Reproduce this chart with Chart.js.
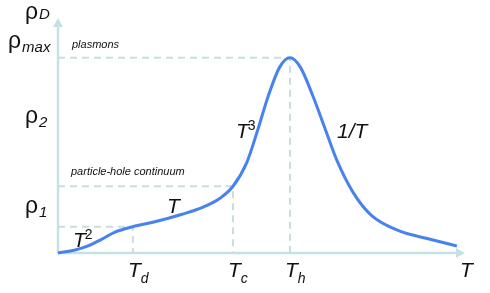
<!DOCTYPE html>
<html>
<head>
<meta charset="utf-8">
<script src="https://cdn.jsdelivr.net/npm/chart.js@4"></script>
<style>
  html, body { margin: 0; padding: 0; background: #fff; }
  #wrap { width: 490px; height: 293px; }
</style>
</head>
<body>
<div id="wrap"><canvas id="densityChart"></canvas></div>
<script>
// curve (T in 0..100, rho_D in 0..100)
const curveT   = [0, 4.2, 7.4, 10.8, 14.0, 18.4, 23.8, 30.5, 35.5, 39.8, 43.0, 46.4, 49.1, 51.6, 54.5, 57.0, 59.5, 62.7, 65.6, 68.5, 72.5, 77.0, 84.0, 90.7, 98.0];
const curveRho = [0, 1.3, 3.0, 5.9, 8.9, 11.2, 13.3, 16.5, 19.4, 23.3, 28.4, 38.6, 52.5, 66.5, 79.2, 83.1, 79.2, 66.5, 53.0, 39.5, 25.8, 16.0, 9.3, 6.2, 3.0];

// marked temperatures and densities
const markT   = [18.4, 43.0, 57.0];
const markRho = [11.2, 28.4, 83.1];
const markNames = ['d', 'c', 'h'];

const curveColor = 'rgb(72, 130, 238)';
const guideColor = 'rgb(200, 222, 224)';
const axisColor  = 'rgb(196, 226, 230)';

const guides = markT.map(function (t, i) {
    return {
        data: [{x: 0, y: markRho[i]}, {x: t, y: markRho[i]}, {x: t, y: 0}],
        borderColor: guideColor,
        borderWidth: 2,
        borderDash: [7, 5],
        pointRadius: 0,
        tension: 0,
        clip: false
    };
});

const curve = {
    data: curveT.map(function (t, i) { return {x: t, y: curveRho[i]}; }),
    borderColor: curveColor,
    borderWidth: 3,
    pointRadius: 0,
    cubicInterpolationMode: 'monotone',
    clip: false
};

function txt(ctx, s, x, y, size, italic) {
    ctx.font = (italic ? 'italic ' : '') + size + 'px "Liberation Sans", Arial, sans-serif';
    ctx.fillText(s, x, y);
    return x + ctx.measureText(s).width;
}

const axesAndLabels = {
    id: 'axesAndLabels',
    beforeDatasetsDraw: function (chart) {
        const ctx = chart.ctx;
        const xs = chart.scales.x, ys = chart.scales.y;
        const x0 = xs.getPixelForValue(0), y0 = ys.getPixelForValue(0);
        const x1 = xs.getPixelForValue(100), y1 = ys.getPixelForValue(100);
        ctx.save();
        ctx.strokeStyle = axisColor;
        ctx.fillStyle = axisColor;
        ctx.lineWidth = 2.5;
        ctx.beginPath();
        ctx.moveTo(x0, y0); ctx.lineTo(x0, y1 + 6);
        ctx.moveTo(x0, y0); ctx.lineTo(x1 - 6, y0);
        ctx.stroke();
        ctx.beginPath();
        ctx.moveTo(x0, y1); ctx.lineTo(x0 - 5, y1 + 9); ctx.lineTo(x0 + 5, y1 + 9); ctx.closePath();
        ctx.moveTo(x1, y0); ctx.lineTo(x1 - 9, y0 - 5); ctx.lineTo(x1 - 9, y0 + 5); ctx.closePath();
        ctx.fill();
        ctx.restore();
    },
    afterDraw: function (chart) {
        const ctx = chart.ctx;
        const xs = chart.scales.x;
        ctx.save();
        ctx.fillStyle = '#111';
        ctx.textBaseline = 'alphabetic';
        ctx.textAlign = 'left';
        let e;
        // y axis labels
        e = txt(ctx, 'ρ', 25, 19, 23, false); txt(ctx, 'D', e + 1, 19, 15, true);
        e = txt(ctx, 'ρ', 8, 48, 23, false); txt(ctx, 'max', e + 1, 52, 15, true);
        e = txt(ctx, 'ρ', 25, 123, 23, false); txt(ctx, '2', e + 1, 127, 15, true);
        e = txt(ctx, 'ρ', 25, 213, 23, false); txt(ctx, '1', e + 1, 217, 15, true);
        // annotations
        txt(ctx, 'plasmons', 72, 48, 11, true);
        txt(ctx, 'particle-hole continuum', 71, 175, 11, true);
        e = txt(ctx, 'T', 73, 247, 21, true); txt(ctx, '2', e - 1, 239, 14, false);
        txt(ctx, 'T', 167, 213, 21, true);
        e = txt(ctx, 'T', 236, 138, 21, true); txt(ctx, '3', e - 1, 130, 14, false);
        txt(ctx, '1/T', 337, 138, 21, true);
        // x axis labels
        markT.forEach(function (t, i) {
            const px = xs.getPixelForValue(t);
            const end = txt(ctx, 'T', px - 5, 277, 21, true);
            txt(ctx, markNames[i], end, 283, 14, true);
        });
        txt(ctx, 'T', 460, 277, 21, true);
        ctx.restore();
    }
};

const config = {
    type: 'line',
    data: { datasets: [curve].concat(guides) },
    options: {
        responsive: true,
        maintainAspectRatio: false,
        animation: false,
        layout: { padding: { left: 58, right: 25, top: 18, bottom: 40 } },
        plugins: { legend: { display: false }, tooltip: { enabled: false } },
        scales: {
            x: { type: 'linear', min: 0, max: 100, display: false },
            y: { type: 'linear', min: 0, max: 100, display: false }
        }
    },
    plugins: [axesAndLabels]
};

var densityChart = new Chart(document.getElementById('densityChart'), config);
</script>
</body>
</html>
